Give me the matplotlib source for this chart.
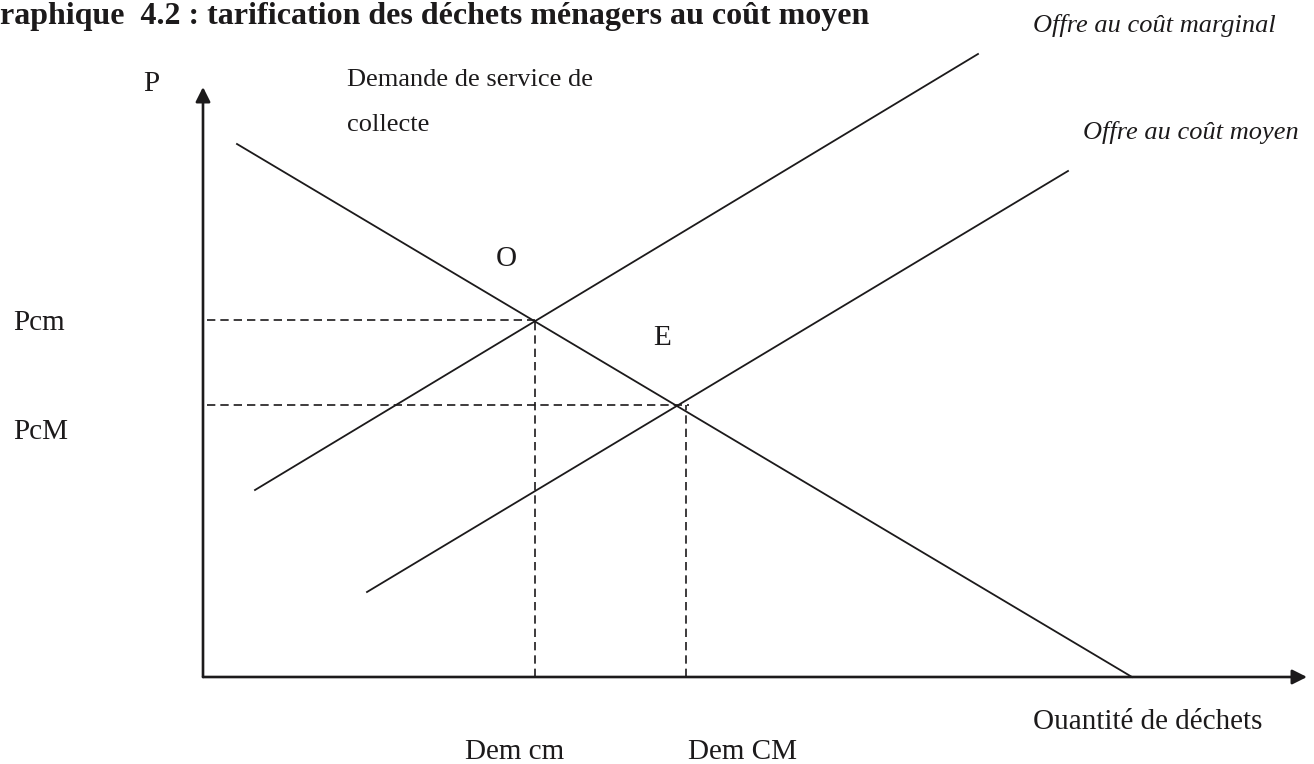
import matplotlib
matplotlib.use("Agg")
import matplotlib.pyplot as plt

plt.rcParams["font.family"] = ["Liberation Serif", "DejaVu Serif"]

INK = "#1c1a1b"

# schematic values, quantity on x, price on y (arbitrary units)
demand_q = [3.4, 92.9]
demand_p = [53.3, 0.0]
marginal_q = [5.2, 77.5]
marginal_p = [18.7, 62.3]
average_q = [16.4, 86.5]
average_p = [8.5, 50.6]

point_O = (33.2, 35.7)
point_E = (47.8, 27.2)

price_labels = ["Pcm", "PcM"]
qty_labels = ["Dem cm", "Dem CM"]

q_max = 110.4
p_max = 59.0

fig = plt.figure(figsize=(13.14, 7.64), dpi=100)
ax = fig.add_axes([0, 0, 1, 1])
ax.set_xlim(-20.3, 111.1)
ax.set_ylim(-8.7, 67.7)
ax.axis("off")

# axes with arrows
arrow = dict(arrowstyle="-|>", lw=1.9, color=INK, mutation_scale=22, shrinkA=0, shrinkB=0)
ax.annotate("", xy=(q_max, 0), xytext=(0, 0), arrowprops=arrow)
ax.annotate("", xy=(0, p_max), xytext=(0, 0), arrowprops=arrow)

# curves
ax.plot(demand_q, demand_p, color=INK, lw=1.3)
ax.plot(marginal_q, marginal_p, color=INK, lw=1.3)
ax.plot(average_q, average_p, color=INK, lw=1.3)

# dashed guides
dash = dict(color=INK, lw=1.2, linestyle=(0, (5, 3)))
ax.plot([0.4, point_O[0]], [point_O[1], point_O[1]], **dash)
ax.plot([point_O[0], point_O[0]], [0, point_O[1]], **dash)
ax.plot([0.4, point_E[0] + 0.8], [point_E[1], point_E[1]], **dash)
ax.plot([point_E[0] + 0.5, point_E[0] + 0.5], [0, point_E[1]], **dash)

# title
ax.text(-20.3, 65.3, "raphique  4.2 : tarification des déchets ménagers au coût moyen",
        fontsize=23, fontweight="bold", color=INK, va="baseline", ha="left")

big = dict(fontsize=21, color=INK, va="center")
small = dict(fontsize=19, color=INK, va="center")

ax.text(-5.2, 59.3, "P", ha="center", **big)
ax.text(-19.0, 35.4, price_labels[0], ha="left", **big)
ax.text(-19.0, 24.5, price_labels[1], ha="left", **big)
ax.text(30.3, 41.8, "O", ha="center", **big)
ax.text(45.9, 33.9, "E", ha="center", **big)
ax.text(26.2, -7.5, qty_labels[0], ha="left", **big)
ax.text(48.5, -7.5, qty_labels[1], ha="left", **big)
ax.text(83.0, -4.5, "Ouantité de déchets", ha="left", **big)

ax.text(14.4, 59.7, "Demande de service de", ha="left", **small)
ax.text(14.4, 55.2, "collecte", ha="left", **small)
ax.text(83.0, 65.2, "Offre au coût marginal", ha="left", style="italic", **small)
ax.text(88.0, 54.5, "Offre au coût moyen", ha="left", style="italic", **small)

fig.savefig("out.png", dpi=100, facecolor="white")
